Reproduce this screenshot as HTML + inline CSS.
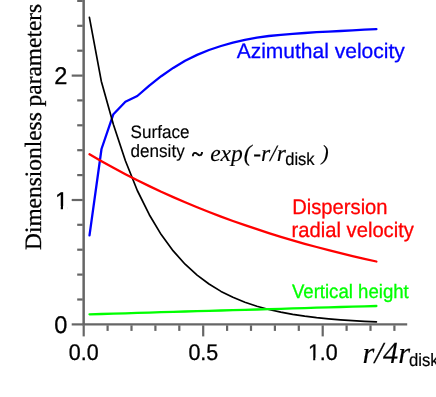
<!DOCTYPE html>
<html><head><meta charset="utf-8"><style>
html,body{margin:0;padding:0;background:#fff;}
body{width:436px;height:397px;overflow:hidden;}
svg{display:block;will-change:transform;}
text{text-rendering:geometricPrecision;}
text{font-family:"Liberation Sans",sans-serif;stroke-width:0.3px;paint-order:stroke fill;}
.se{font-family:"Liberation Serif",serif;}
.it{font-family:"Liberation Serif",serif;font-style:italic;stroke:#000;stroke-width:0.15px;}
</style></head><body>
<svg width="436" height="397" viewBox="0 0 436 397">
<defs><filter id="nf" x="0" y="0" width="100%" height="100%" filterUnits="userSpaceOnUse" color-interpolation-filters="sRGB"><feOffset dx="0" dy="0"/></filter></defs>
<rect width="436" height="397" fill="#fff"/>
<g filter="url(#nf)">
<g stroke="#666" stroke-width="2.2" fill="none">
<path d="M83.65 -2 L83.65 325.45" stroke-width="2.5"/><path d="M82.4 324.35 L407.2 324.35" stroke-width="2.2"/>
<line x1="83.7" y1="325.35" x2="83.7" y2="336.4"/><line x1="107.6" y1="325.35" x2="107.6" y2="330.9"/><line x1="131.5" y1="325.35" x2="131.5" y2="330.9"/><line x1="155.4" y1="325.35" x2="155.4" y2="330.9"/><line x1="179.3" y1="325.35" x2="179.3" y2="330.9"/><line x1="203.2" y1="325.35" x2="203.2" y2="336.4"/><line x1="227.1" y1="325.35" x2="227.1" y2="330.9"/><line x1="251.0" y1="325.35" x2="251.0" y2="330.9"/><line x1="274.9" y1="325.35" x2="274.9" y2="330.9"/><line x1="298.8" y1="325.35" x2="298.8" y2="330.9"/><line x1="322.7" y1="325.35" x2="322.7" y2="336.4"/><line x1="346.6" y1="325.35" x2="346.6" y2="330.9"/><line x1="370.5" y1="325.35" x2="370.5" y2="330.9"/><line x1="394.4" y1="325.35" x2="394.4" y2="330.9"/><line x1="82.70" y1="324.4" x2="71.7" y2="324.4"/><line x1="82.70" y1="299.5" x2="77.2" y2="299.5"/><line x1="82.70" y1="274.6" x2="77.2" y2="274.6"/><line x1="82.70" y1="249.7" x2="77.2" y2="249.7"/><line x1="82.70" y1="224.8" x2="77.2" y2="224.8"/><line x1="82.70" y1="200.0" x2="71.7" y2="200.0"/><line x1="82.70" y1="175.1" x2="77.2" y2="175.1"/><line x1="82.70" y1="150.2" x2="77.2" y2="150.2"/><line x1="82.70" y1="125.3" x2="77.2" y2="125.3"/><line x1="82.70" y1="100.4" x2="77.2" y2="100.4"/><line x1="82.70" y1="75.6" x2="71.7" y2="75.6"/><line x1="82.70" y1="50.7" x2="77.2" y2="50.7"/><line x1="82.70" y1="25.8" x2="77.2" y2="25.8"/><line x1="82.70" y1="0.9" x2="77.2" y2="0.9"/>
</g>
<path d="M89.5 235.3 L101.5 149.0 L113.4 114.2 L125.4 101.7 L137.3 96.0 L149.3 85.7 L161.2 76.2 L173.2 67.9 L185.1 60.8 L197.1 54.9 L209.0 50.0 L221.0 46.0 L232.9 42.6 L244.9 39.8 L256.9 37.7 L268.8 36.0 L280.8 34.8 L292.7 33.8 L304.7 33.0 L316.6 32.2 L328.6 31.6 L340.5 31.0 L352.5 30.4 L364.4 29.7 L376.4 29.1" stroke="#0000ff" stroke-width="2.3" fill="none" stroke-linejoin="round" stroke-linecap="round"/>
<path d="M89.4 17.4 L101.3 81.2 L113.4 124.6 L125.4 160.8 L137.3 190.5 L149.3 214.7 L161.2 234.6 L173.2 250.9 L185.1 264.2 L197.1 275.1 L209.0 284.0 L221.0 291.4 L232.9 297.3 L244.9 302.2 L256.9 306.2 L268.8 309.5 L280.8 312.2 L292.7 314.4 L304.7 316.2 L316.6 317.7 L328.6 318.9 L340.5 319.9 L352.5 320.7 L364.4 321.4 L376.4 321.9" stroke="#000" stroke-width="1.7" fill="none" stroke-linejoin="round" stroke-linecap="round"/>
<path d="M89.5 154.3 L101.5 161.2 L113.4 167.8 L125.4 174.2 L137.3 180.3 L149.3 186.1 L161.2 191.8 L173.2 197.1 L185.1 202.3 L197.1 207.3 L209.0 212.0 L221.0 216.6 L232.9 221.0 L244.9 225.2 L256.9 229.2 L268.8 233.1 L280.8 236.8 L292.7 240.3 L304.7 243.8 L316.6 247.0 L328.6 250.2 L340.5 253.2 L352.5 256.1 L364.4 258.9 L376.4 261.5" stroke="#ff0000" stroke-width="2.3" fill="none" stroke-linejoin="round" stroke-linecap="round"/>
<path d="M89.5 314.3 L101.5 314.0 L113.4 313.6 L125.4 313.3 L137.3 312.9 L149.3 312.6 L161.2 312.2 L173.2 311.9 L185.1 311.5 L197.1 311.2 L209.0 310.9 L221.0 310.5 L232.9 310.2 L244.9 309.8 L256.9 309.5 L268.8 309.1 L280.8 308.8 L292.7 308.4 L304.7 308.1 L316.6 307.7 L328.6 307.4 L340.5 307.0 L352.5 306.7 L364.4 306.3 L376.4 306.0" stroke="#00ff00" stroke-width="2.3" fill="none" stroke-linejoin="round" stroke-linecap="round"/>
<g font-size="24.2" fill="#000" stroke="#000">
<g transform="translate(67.3 84.1) scale(0.975 1)"><text text-anchor="end">2</text></g>
<g transform="translate(68.0 208.5) scale(0.975 1)"><text x="-13.46" y="0.00">1</text><rect x="-12.49" y="-2.42" width="5.03" height="4.84" fill="#fff" stroke="none"/><rect x="-5.15" y="-2.42" width="4.60" height="4.84" fill="#fff" stroke="none"/></g>
<g transform="translate(67.3 333.1) scale(0.975 1)"><text text-anchor="end">0</text></g>
</g>
<g font-size="22.7" fill="#000" stroke="#000">
<g transform="translate(83.7 360.1) scale(0.945 1)"><text text-anchor="middle">0.0</text></g>
<g transform="translate(203.3 360.1) scale(0.945 1)"><text text-anchor="middle">0.5</text></g>
<g transform="translate(322.8 360.1) scale(0.945 1)"><text x="-15.78" y="0.00">1.0</text><rect x="-14.87" y="-2.27" width="4.72" height="4.54" fill="#fff" stroke="none"/><rect x="-7.99" y="-2.27" width="4.31" height="4.54" fill="#fff" stroke="none"/></g>
</g>
<text class="se" font-size="23.4" stroke="#000" stroke-width="0.3" transform="translate(40.9 250.0) rotate(-90)">Dimensionless parameters</text>
<text x="236.7" y="58.3" font-size="21.0" fill="#0000ff" stroke="#0000ff">Azimuthal velocity</text>
<text transform="translate(292.2 213.7) scale(0.957 1)" font-size="21.1" fill="#ff0000" stroke="#ff0000">Dispersion</text>
<text transform="translate(291.6 236.6) scale(0.957 1)" font-size="21.1" fill="#ff0000" stroke="#ff0000">radial velocity</text>
<text transform="translate(291.9 298.2) scale(0.954 1)" font-size="19.5" fill="#00ff00" stroke="#00ff00">Vertical height</text>
<text transform="translate(130.6 137.8) scale(0.948 1)" font-size="18" stroke="#000" style="stroke-width:0.15px">Surface</text>
<text transform="translate(130.6 156.5) scale(0.948 1)" font-size="18" stroke="#000" style="stroke-width:0.15px">density</text>
<text class="se" x="191.7" y="160.6" font-size="21" stroke="#000" style="stroke-width:0.8px">~</text>
<text class="it" x="210.2" y="160.5" font-size="23.5">exp<tspan dx="0.9">(</tspan><tspan dx="1.6">-r/r</tspan></text>
<text transform="translate(285.2 165.4) scale(0.94 1)" font-size="17.6" stroke="#000" style="stroke-width:0.2px">disk</text>
<text class="it" x="321.6" y="160.2" font-size="21.5">)</text>
<text class="it" x="362.6" y="362.9" font-size="30.5">r/4r</text>
<text transform="translate(408.9 366.2) scale(0.94 1)" font-size="17.8" stroke="#000" style="stroke-width:0.2px">disk</text>
</g>
</svg>
</body></html>
